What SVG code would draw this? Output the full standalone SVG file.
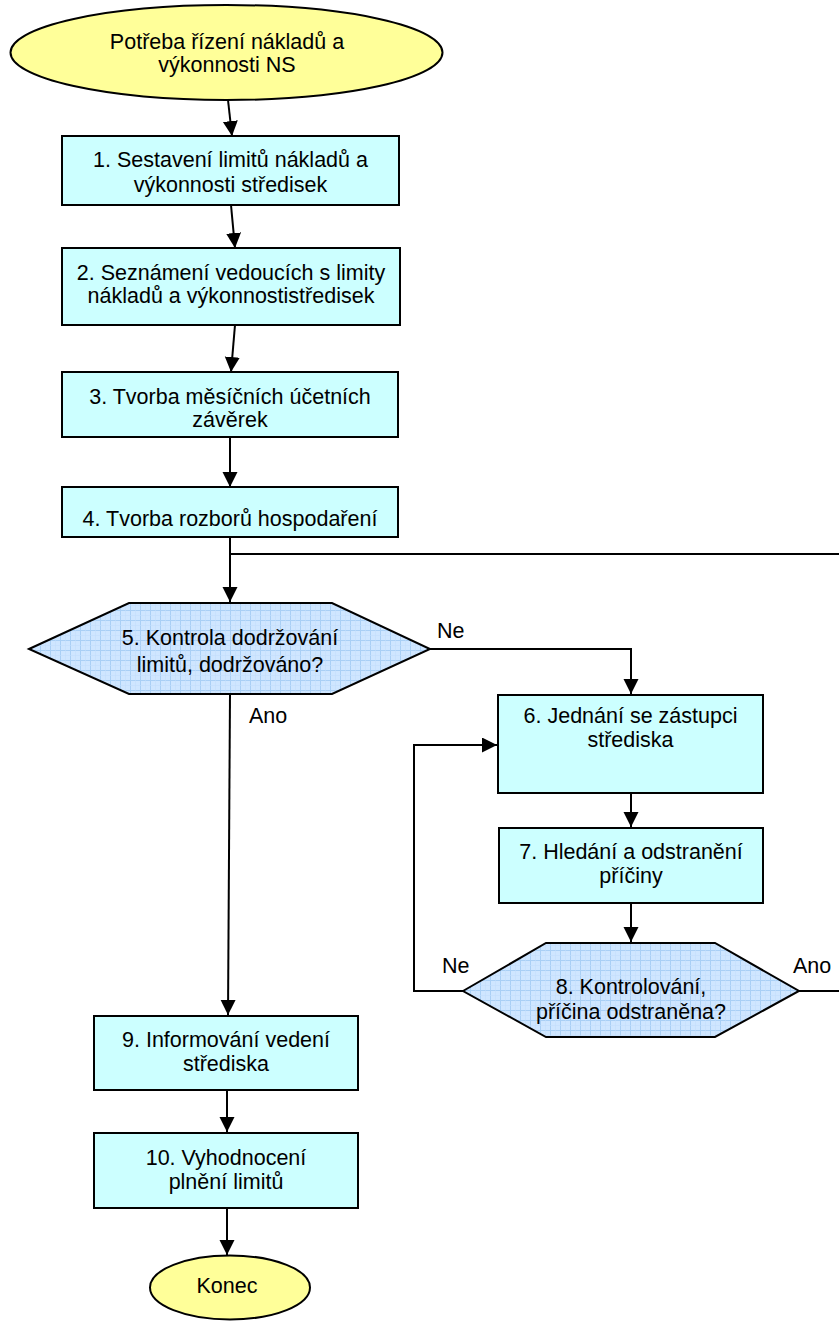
<svg xmlns="http://www.w3.org/2000/svg" width="839" height="1324" viewBox="0 0 839 1324">
  <style>
    .term { fill: #FFFF99; stroke: #000; stroke-width: 2; }
    .proc { fill: #CCFFFF; stroke: #000; stroke-width: 2; }
    .dec { fill: url(#grid); stroke: #000; stroke-width: 2; }
    .lbl { font-family: "Liberation Sans", Arial, sans-serif; font-size: 21.5px; fill: #000; text-anchor: middle; }
    .tag { font-family: "Liberation Sans", Arial, sans-serif; font-size: 21.5px; fill: #000; }
    .conn { fill: none; stroke: #000; stroke-width: 2; }
  </style>
  <defs>
    <pattern id="grid" width="10" height="10" patternUnits="userSpaceOnUse">
      <rect width="10" height="10" fill="#CFE6FF"/>
      <path d="M0,0.5 H10 M0.5,0 V10" stroke="#A9CFF5" stroke-width="1"/>
      <path d="M0,5.5 H10 M5.5,0 V10" stroke="#C2DEFB" stroke-width="0.6"/>
    </pattern>
    <marker id="arrow" markerUnits="userSpaceOnUse" markerWidth="16" markerHeight="16" refX="15" refY="7.5" orient="auto">
      <path d="M0,0 L15,7.5 L0,15 Z" fill="#000"/>
    </marker>
  </defs>

  <!-- connectors -->
  <g id="connectors" class="conn">
    <path d="M228,100 L232,136" marker-end="url(#arrow)"/>
    <path d="M231,205 L235,248" marker-end="url(#arrow)"/>
    <path d="M235,325 L231,372" marker-end="url(#arrow)"/>
    <path d="M230,437 L230,487" marker-end="url(#arrow)"/>
    <path d="M230,537 L230,602" marker-end="url(#arrow)"/>
    <path d="M839,554 L230,554"/>
    <path d="M430,649 L631,649 L631,694" marker-end="url(#arrow)"/>
    <path d="M230,694 L228,1015" marker-end="url(#arrow)"/>
    <path d="M631,793 L631,827" marker-end="url(#arrow)"/>
    <path d="M631,903 L631,942" marker-end="url(#arrow)"/>
    <path d="M463,991 L414,991 L414,745 L497,745" marker-end="url(#arrow)"/>
    <path d="M799,991 L839,991"/>
    <path d="M227,1090 L227,1132" marker-end="url(#arrow)"/>
    <path d="M227,1208 L227,1255" marker-end="url(#arrow)"/>
  </g>

  <g id="labels">
    <text class="tag" x="437" y="638">Ne</text>
    <text class="tag" x="249" y="723">Ano</text>
    <text class="tag" x="442" y="973">Ne</text>
    <text class="tag" x="793" y="973">Ano</text>
  </g>

  <g id="start">
    <ellipse class="term" cx="226.5" cy="52.5" rx="216" ry="47.5"/>
    <text class="lbl" x="227" y="48.5">Potřeba řízení nákladů a</text>
    <text class="lbl" x="227" y="72">výkonnosti NS</text>
  </g>

  <g id="step1">
    <rect class="proc" x="62" y="136" width="337" height="69"/>
    <text class="lbl" x="230.5" y="166.5">1. Sestavení limitů nákladů a</text>
    <text class="lbl" x="230.5" y="191.5">výkonnosti středisek</text>
  </g>

  <g id="step2">
    <rect class="proc" x="62" y="248" width="338" height="77"/>
    <text class="lbl" x="231" y="279.5">2. Seznámení vedoucích s limity</text>
    <text class="lbl" x="231" y="303">nákladů a výkonnostistředisek</text>
  </g>

  <g id="step3">
    <rect class="proc" x="62" y="372" width="336" height="65"/>
    <text class="lbl" x="230" y="403.5">3. Tvorba měsíčních účetních</text>
    <text class="lbl" x="230" y="427">závěrek</text>
  </g>

  <g id="step4">
    <rect class="proc" x="62" y="487" width="336" height="50"/>
    <text class="lbl" x="230" y="525.5">4. Tvorba rozborů hospodaření</text>
  </g>

  <g id="check5">
    <polygon class="dec" points="29,649 129,603 332,603 430,649 332,694 129,694"/>
    <text class="lbl" x="230" y="645">5. Kontrola dodržování</text>
    <text class="lbl" x="230" y="671.5">limitů, dodržováno?</text>
  </g>

  <g id="step6">
    <rect class="proc" x="498" y="695" width="265" height="98"/>
    <text class="lbl" x="630.5" y="722.5">6. Jednání se zástupci</text>
    <text class="lbl" x="630.5" y="747">střediska</text>
  </g>

  <g id="step7">
    <rect class="proc" x="499" y="828" width="264" height="75"/>
    <text class="lbl" x="631" y="858.5">7. Hledání a odstranění</text>
    <text class="lbl" x="631" y="882.5">příčiny</text>
  </g>

  <g id="check8">
    <polygon class="dec" points="463,991 546,943 715,943 799,991 715,1037 546,1037"/>
    <text class="lbl" x="631" y="994">8. Kontrolování,</text>
    <text class="lbl" x="631" y="1018.5">příčina odstraněna?</text>
  </g>

  <g id="step9">
    <rect class="proc" x="94" y="1016" width="264" height="74"/>
    <text class="lbl" x="226" y="1046.5">9. Informování vedení</text>
    <text class="lbl" x="226" y="1071">střediska</text>
  </g>

  <g id="step10">
    <rect class="proc" x="94" y="1133" width="264" height="75"/>
    <text class="lbl" x="226" y="1165">10. Vyhodnocení</text>
    <text class="lbl" x="226" y="1188.5">plnění limitů</text>
  </g>

  <g id="end">
    <ellipse class="term" cx="230" cy="1287.5" rx="80" ry="32"/>
    <text class="lbl" x="227" y="1293">Konec</text>
  </g>
</svg>
